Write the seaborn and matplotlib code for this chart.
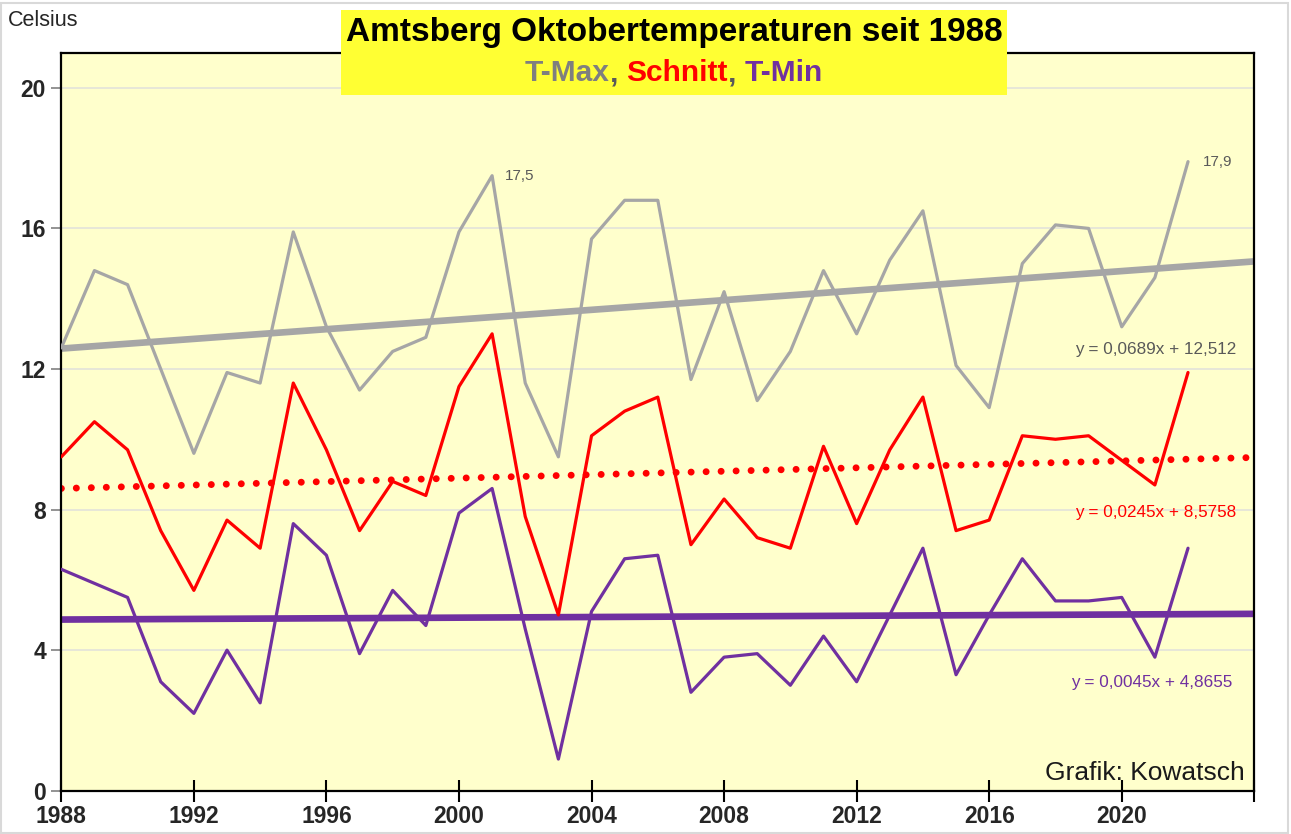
import matplotlib
matplotlib.use('Agg')
import pandas as pd
import matplotlib.pyplot as plt
import seaborn as sns
from matplotlib.patches import Rectangle

# Oktober-Werte Amtsberg, 1988-2022
years = list(range(1988, 2023))
t_max = [12.6, 14.8, 14.4, 12.0, 9.6, 11.9, 11.6, 15.9, 13.2, 11.4, 12.5, 12.9,
         15.9, 17.5, 11.6, 9.5, 15.7, 16.8, 16.8, 11.7, 14.2, 11.1, 12.5, 14.8,
         13.0, 15.1, 16.5, 12.1, 10.9, 15.0, 16.1, 16.0, 13.2, 14.6, 17.9]
schnitt = [9.5, 10.5, 9.7, 7.4, 5.7, 7.7, 6.9, 11.6, 9.7, 7.4, 8.8, 8.4,
           11.5, 13.0, 7.8, 5.0, 10.1, 10.8, 11.2, 7.0, 8.3, 7.2, 6.9, 9.8,
           7.6, 9.7, 11.2, 7.4, 7.7, 10.1, 10.0, 10.1, 9.4, 8.7, 11.9]
t_min = [6.3, 5.9, 5.5, 3.1, 2.2, 4.0, 2.5, 7.6, 6.7, 3.9, 5.7, 4.7,
         7.9, 8.6, 4.6, 0.9, 5.1, 6.6, 6.7, 2.8, 3.8, 3.9, 3.0, 4.4,
         3.1, 5.0, 6.9, 3.3, 5.0, 6.6, 5.4, 5.4, 5.5, 3.8, 6.9]

# Excel-Trendlinien (x = 1 fuer 1988)
trend_years = [1988, 2024]
slope_max, icpt_max = 0.0689, 12.512
slope_mean, icpt_mean = 0.0245, 8.5758
slope_min, icpt_min = 0.0045, 4.8655
eq_max = 'y = 0,0689x + 12,512'
eq_mean = 'y = 0,0245x + 8,5758'
eq_min = 'y = 0,0045x + 4,8655'

xticks = list(range(1988, 2025, 4))
xticklabels = [str(y) for y in xticks[:-1]] + ['']
yticks = [0, 4, 8, 12, 16, 20]

GRAY = '#A6A6A6'
RED = '#FF0000'
PURPLE = '#7030A0'

df = pd.DataFrame({'Jahr': years, 'T-Max': t_max, 'Schnitt': schnitt, 'T-Min': t_min})
tr = pd.DataFrame({'Jahr': trend_years})
tr['max'] = [icpt_max + slope_max * (y - 1987) for y in trend_years]
tr['mean'] = [icpt_mean + slope_mean * (y - 1987) for y in trend_years]
tr['min'] = [icpt_min + slope_min * (y - 1987) for y in trend_years]

sns.set_style('white')
plt.rcParams['font.family'] = ['Liberation Sans', 'DejaVu Sans']

fig = plt.figure(figsize=(12.91, 8.34), dpi=100)
ax = fig.add_axes([61.3 / 1291, 1 - 790.7 / 834, (1254.3 - 61.3) / 1291, (790.7 - 52.7) / 834])
ax.set_facecolor('#FFFFCC')

sns.lineplot(data=tr, x='Jahr', y='max', color=GRAY, lw=4.8, ax=ax, zorder=2)
sns.lineplot(data=tr, x='Jahr', y='mean', color=RED, lw=5, ax=ax, zorder=2,
             linestyle=(0, (0.01, 2.15)), dash_capstyle='round')
sns.lineplot(data=tr, x='Jahr', y='min', color=PURPLE, lw=4.8, ax=ax, zorder=2)

sns.lineplot(data=df, x='Jahr', y='T-Max', color=GRAY, lw=2.3, ax=ax, zorder=3)
sns.lineplot(data=df, x='Jahr', y='Schnitt', color=RED, lw=2.3, ax=ax, zorder=3)
sns.lineplot(data=df, x='Jahr', y='T-Min', color=PURPLE, lw=2.3, ax=ax, zorder=3)

ax.set_xlim(1988, 2024)
ax.set_ylim(0, 21)
ax.set_xticks(xticks)
ax.set_xticklabels(xticklabels)
ax.set_yticks(yticks)
ax.set_xlabel('')
ax.set_ylabel('')
ax.grid(axis='y', color='#E3E3DA', lw=1.2)
ax.set_axisbelow(True)
for s in ax.spines.values():
    s.set_color('black')
    s.set_linewidth(1.6)
ax.tick_params(axis='x', direction='inout', length=16, width=1.5, color='black',
               labelsize=16.5, pad=2)
ax.tick_params(axis='y', direction='out', length=7, width=1.2, color='#808080',
               labelsize=16.5, pad=4, left=True)
ax.tick_params(axis='x', bottom=True)
for lab in ax.get_xticklabels() + ax.get_yticklabels():
    lab.set_fontweight('bold')

# Datenbeschriftungen
i01 = years.index(2001)
i22 = years.index(2022)
ax.annotate(str(t_max[i01]).replace('.', ','), (years[i01], t_max[i01]),
            xytext=(13, 0), textcoords='offset pixels', va='center',
            fontsize=11, color='#595959')
ax.annotate(str(t_max[i22]).replace('.', ','), (years[i22], t_max[i22]),
            xytext=(15, 0), textcoords='offset pixels', va='center',
            fontsize=11, color='#595959')

ax.text(2023.45, 12.56, eq_max, ha='right', va='center', fontsize=12.3, color='#595959')
ax.text(2023.45, 7.91, eq_mean, ha='right', va='center', fontsize=12.3, color=RED)
ax.text(2023.35, 3.07, eq_min, ha='right', va='center', fontsize=12.3, color=PURPLE)
ax.text(0.992, 0.024, 'Grafik: Kowatsch', transform=ax.transAxes, ha='right',
        va='center', fontsize=19, color='#1A1A1A')

fig.text(8 / 1291, 1 - 21 / 834, 'Celsius', ha='left', va='center', fontsize=15.5, color='#262626')

# Titelkasten
fig.patches.append(Rectangle((341 / 1291, 1 - 95 / 834), (1007 - 341) / 1291, 85 / 834,
                             transform=fig.transFigure, facecolor='#FFFF33',
                             edgecolor='none', zorder=5))
fig.text(674 / 1291, 1 - 33 / 834, 'Amtsberg Oktobertemperaturen seit 1988',
         ha='center', va='center', fontsize=24, fontweight='bold', color='black', zorder=6)

parts = [('T-Max', '#7F7F7F'), (', ', '#595959'), ('Schnitt', RED),
         (', ', '#595959'), ('T-Min', PURPLE)]
fig.canvas.draw()
r = fig.canvas.get_renderer()
texts = [fig.text(0, 1 - 73 / 834, s, color=c, fontsize=21.5, fontweight='bold',
                  va='center', ha='left', zorder=6,
                  family=['Liberation Sans Narrow', 'Liberation Sans'])
         for s, c in parts]
widths = [t.get_window_extent(r).width for t in texts]
x = 674 - sum(widths) / 2
for t, w in zip(texts, widths):
    t.set_x(x / 1291)
    x += w

fig.patches.append(Rectangle((0.001, 0.001), 0.997, 0.996, transform=fig.transFigure,
                             facecolor='none', edgecolor='#D9D9D9', lw=1.5, zorder=0))

fig.savefig('out.png', dpi=100, facecolor='white')
